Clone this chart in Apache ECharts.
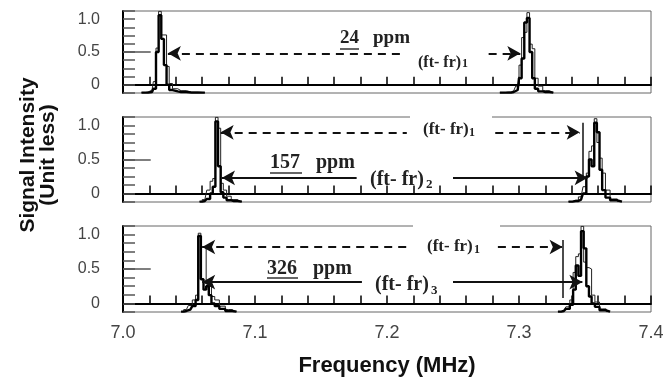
<!DOCTYPE html>
<html>
<head>
<meta charset="utf-8">
<script src="https://cdn.jsdelivr.net/npm/echarts@6/dist/echarts.min.js"></script>
<style>
  html, body { margin: 0; padding: 0; background: #fff; }
  #chart { width: 669px; height: 381px; }
</style>
</head>
<body>
<div id="chart"></div>
<script>
// frequency (MHz) and signal intensity, two traces per panel; the null pair splits the two peaks
const p1Freq = [7.014, 7.019, 7.022, 7.024, 7.026, 7.028, 7.030, 7.032, 7.034, 7.036, 7.039, 7.044, 7.052, 7.062, 7.063,
  7.285, 7.286, 7.292, 7.296, 7.299, 7.301, 7.303, 7.305, 7.307, 7.309, 7.311, 7.313, 7.316, 7.320, 7.326];
const p1Thin = [-0.12, -0.11, -0.08, 0.05, 0.56, 1.12, 0.76, 0.76, 0.28, 0.02, -0.06, -0.09, -0.11, -0.12, null,
  null, -0.12, -0.11, -0.09, -0.02, 0.30, 0.72, 0.80, 1.10, 0.62, 0.55, 0.10, -0.02, -0.09, -0.12];
const p1Thick = [-0.12, -0.12, -0.11, -0.06, 0.50, 1.06, 0.70, 0.30, 0.00, -0.08, -0.10, -0.11, -0.12, -0.12, null,
  null, -0.12, -0.12, -0.11, -0.08, 0.10, 0.40, 0.95, 1.02, 0.50, 0.10, -0.06, -0.10, -0.11, -0.12];

const p2Freq = [7.058, 7.062, 7.065, 7.067, 7.069, 7.071, 7.073, 7.075, 7.077, 7.080, 7.084, 7.090, 7.091,
  7.337, 7.338, 7.343, 7.347, 7.350, 7.352, 7.354, 7.356, 7.358, 7.360, 7.362, 7.364, 7.367, 7.371, 7.378];
const p2Thin = [-0.12, -0.09, 0.05, 0.18, 0.22, 1.12, 0.96, 0.15, 0.05, -0.04, -0.09, -0.12, null,
  null, -0.12, -0.10, -0.05, 0.10, 0.30, 0.62, 0.70, 1.10, 0.75, 0.52, 0.30, 0.05, -0.08, -0.12];
const p2Thick = [-0.12, -0.11, -0.08, 0.00, 0.10, 1.06, 0.40, 0.02, -0.06, -0.10, -0.11, -0.12, null,
  null, -0.12, -0.11, -0.09, 0.00, 0.25, 0.50, 0.40, 1.04, 0.90, 0.35, 0.05, -0.06, -0.10, -0.12];

const p3Freq = [7.044, 7.048, 7.051, 7.054, 7.056, 7.058, 7.060, 7.062, 7.064, 7.066, 7.068, 7.071, 7.075, 7.080, 7.086, 7.087,
  7.329, 7.330, 7.334, 7.337, 7.340, 7.342, 7.344, 7.346, 7.348, 7.350, 7.352, 7.354, 7.356, 7.359, 7.363, 7.369];
const p3Thin = [-0.12, -0.09, -0.03, 0.05, 0.12, 1.02, 0.82, 0.80, 0.30, 0.25, 0.10, 0.05, -0.04, -0.09, -0.12, null,
  null, -0.12, -0.10, -0.05, 0.05, 0.45, 0.68, 0.72, 1.12, 0.60, 0.52, 0.50, 0.12, 0.02, -0.08, -0.12];
const p3Thick = [-0.12, -0.11, -0.09, -0.04, 0.05, 0.98, 0.35, 0.20, 0.25, 0.12, 0.00, -0.04, -0.08, -0.11, -0.12, null,
  null, -0.12, -0.11, -0.08, -0.02, 0.20, 0.55, 0.40, 1.05, 0.80, 0.25, 0.10, 0.00, -0.05, -0.10, -0.12];

// (ft-fr)1 dashed arrows, (ft-fr)2/3 solid arrows and the vertical markers
const refFrom = [7.034, 7.074, 7.060];
const refTo = [7.301, 7.346, 7.333];
const refLevel = [0.48, 0.90, 0.82];
const refGapFrom = [7.214, 7.215, 7.215];
const refGapTo = [7.277, 7.282, 7.284];
const shiftFrom = [null, 7.075, 7.060];
const shiftTo = [null, 7.352, 7.348];
const shiftLevel = [null, 0.23, 0.31];
const shiftGapFrom = [null, 7.177, 7.181];
const shiftGapTo = [null, 7.250, 7.250];
const markerFreq = [null, 7.3485, 7.333];
const markerLow = [null, 0.24, 0.08];
const markerHigh = [null, 1.04, 0.92];

const yLabels = { '0': '0', '0.5': '0.5', '1': '1.0' };

const panels = [
  { freq: p1Freq, thin: p1Thin, thick: p1Thick },
  { freq: p2Freq, thin: p2Thin, thick: p2Thick },
  { freq: p3Freq, thin: p3Thin, thick: p3Thick }
];
const tops = [11, 117, 226];
const heights = [82, 85, 86];

const chart = echarts.init(document.getElementById('chart'));

const zip = (xs, ys) => xs.map((x, i) => [x, ys[i] == null ? '-' : ys[i]]);

const dashed = { color: '#111', width: 2, type: [8, 6] };
const solid = { color: '#111', width: 2, type: 'solid' };

function marks(i) {
  const d = [];
  // long tick at 0.5
  d.push([{ coord: [7.0, 0.5], symbol: 'none', lineStyle: { color: '#555', width: 1.5, type: 'solid' } },
          { coord: [7.021, 0.5], symbol: 'none' }]);
  d.push([{ coord: [refFrom[i], refLevel[i]], symbol: 'arrow', lineStyle: dashed },
          { coord: [refGapFrom[i], refLevel[i]], symbol: 'none' }]);
  d.push([{ coord: [refGapTo[i], refLevel[i]], symbol: 'none', lineStyle: dashed },
          { coord: [refTo[i], refLevel[i]], symbol: 'arrow' }]);
  if (shiftFrom[i] != null) {
    d.push([{ coord: [shiftFrom[i], shiftLevel[i]], symbol: 'arrow', lineStyle: solid },
            { coord: [shiftGapFrom[i], shiftLevel[i]], symbol: 'none' }]);
    d.push([{ coord: [shiftGapTo[i], shiftLevel[i]], symbol: 'none', lineStyle: solid },
            { coord: [shiftTo[i], shiftLevel[i]], symbol: 'arrow' }]);
    d.push([{ coord: [markerFreq[i], markerLow[i]], symbol: 'none', lineStyle: { color: '#111', width: 1.5, type: 'solid' } },
            { coord: [markerFreq[i], markerHigh[i]], symbol: 'none' }]);
  }
  return d;
}

const grid = [], xAxis = [], yAxis = [], series = [];
panels.forEach((p, i) => {
  grid.push({ left: 123, right: 18, top: tops[i], height: heights[i], show: true,
    borderColor: '#666', borderWidth: 1, backgroundColor: 'transparent' });
  xAxis.push({
    type: 'value', gridIndex: i, min: 7.0, max: 7.4, interval: 0.02,
    axisLine: { lineStyle: { color: '#000', width: 2 } },
    axisTick: { inside: true, length: 8, lineStyle: { color: '#000', width: 1.5 } },
    axisLabel: {
      show: i === 2, margin: 12, color: '#444', fontSize: 18, fontFamily: 'Liberation Sans',
      formatter: v => Math.abs(v * 10 - Math.round(v * 10)) < 1e-6 ? v.toFixed(1) : ''
    },
    splitLine: { show: false },
    name: i === 2 ? 'Frequency (MHz)' : '',
    nameLocation: 'middle', nameGap: 43,
    nameTextStyle: { fontSize: 22, fontWeight: 'bold', color: '#111', fontFamily: 'Liberation Sans' }
  });
  yAxis.push({
    type: 'value', gridIndex: i, min: -0.125, max: 1.125, interval: 0.125,
    axisLine: { lineStyle: { color: '#000', width: 2 } },
    axisTick: { inside: true, length: 12, lineStyle: { color: '#555', width: 1.5 } },
    axisLabel: {
      margin: 23, color: '#444', fontSize: 16, fontFamily: 'Liberation Sans',
      formatter: v => {
        const k = String(Math.round(v * 1000) / 1000);
        return yLabels[k] || '';
      }
    },
    splitLine: { show: false }
  });
  series.push({
    type: 'line', xAxisIndex: i, yAxisIndex: i, step: 'middle', symbol: 'none',
    data: zip(p.freq, p.thin), connectNulls: false,
    lineStyle: { color: '#222', width: 1 }, animation: false, silent: true,
    markLine: { silent: true, animation: false, symbolSize: [11, 13], label: { show: false },
      data: marks(i) }
  });
  series.push({
    type: 'line', xAxisIndex: i, yAxisIndex: i, step: 'middle', symbol: 'none',
    data: zip(p.freq, p.thick), connectNulls: false,
    lineStyle: { color: '#000', width: 2.4 }, animation: false, silent: true
  });
});

const serif = '"Liberation Serif", "DejaVu Serif", serif';
const txt = (x, y, s, size) => ({ type: 'text', x: x, y: y, z: 100,
  style: { text: s, font: 'bold ' + size + 'px ' + serif, fill: '#222', verticalAlign: 'top' } });
const rule = (x1, x2, y) => ({ type: 'line', z: 100, shape: { x1: x1, y1: y, x2: x2, y2: y },
  style: { stroke: '#333', lineWidth: 1.5 } });
const blank = (x, y, w, h) => ({ type: 'rect', z: 90, shape: { x: x, y: y, width: w, height: h },
  style: { fill: '#fff' } });

chart.setOption({
  animation: false,
  textStyle: { fontFamily: 'Liberation Sans' },
  grid: grid,
  xAxis: xAxis,
  yAxis: yAxis,
  series: series,
  graphic: [
    blank(410, 114, 82, 6),
    blank(413, 223, 87, 6),
    // panel 1
    txt(340, 29, '24', 19), rule(340, 359, 49), txt(373, 29, 'ppm', 19),
    txt(418, 55, '(ft- fr)', 16), txt(462, 58, '1', 12),
    // panel 2
    txt(423, 121, '(ft- fr)', 17), txt(469, 127, '1', 12),
    txt(270, 153, '157', 20), rule(270, 302, 173), txt(316, 153, 'ppm', 20),
    txt(370, 170, '(ft- fr)', 20), txt(426, 178, '2', 13),
    // panel 3
    txt(427, 238, '(ft- fr)', 17), txt(474, 244, '1', 12),
    txt(267, 259, '326', 20), rule(267, 298, 278), txt(313, 259, 'ppm', 20),
    txt(375, 275, '(ft- fr)', 20), txt(431, 284, '3', 13),
    // y-axis title
    { type: 'text', x: 38, y: 155, rotation: Math.PI / 2, z: 100,
      style: { text: 'Signal Intensity\n(Unit less)', font: 'bold 21px "Liberation Sans"', fill: '#111',
        align: 'center', verticalAlign: 'middle', lineHeight: 20 } }
  ]
});
</script>
</body>
</html>
